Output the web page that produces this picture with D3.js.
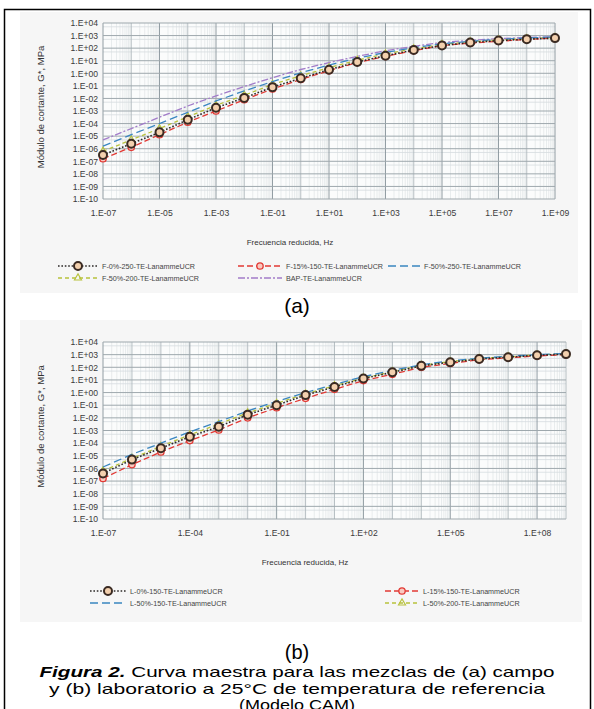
<!DOCTYPE html>
<html>
<head>
<meta charset="utf-8">
<script src="https://cdn.jsdelivr.net/npm/d3@7/dist/d3.min.js"></script>
<style>
body{margin:0;background:#fff;}
text{font-family:"Liberation Sans",Arial,sans-serif;}
</style>
</head>
<body>
<svg id="fig" width="594" height="709"></svg>
<script>

// reduced frequency, Hz (one point per decade)
var freqs=[1e-7,1e-6,1e-5,1e-4,1e-3,1e-2,1e-1,1e0,1e1,1e2,1e3,1e4,1e5,1e6,1e7,1e8,1e9];

// G*, MPa - (a) campo
var f0_250 =[3.2e-7,2.5e-6,2.0e-5,2.0e-4,1.8e-3,1.1e-2,7.9e-2,0.40,1.9,7.9,25,71,160,280,400,520,630];
var f15_150=[1.6e-7,1.3e-6,1.3e-5,1.3e-4,1.0e-3,7.9e-3,5.6e-2,0.32,1.6,7.1,22,63,160,250,350,500,630];
var f50_250=[1.6e-6,1.3e-5,1.0e-4,7.9e-4,6.3e-3,4.0e-2,0.22,1.1,4.5,16,45,110,220,350,500,630,790];
var f50_200=[6.3e-7,5.0e-6,4.0e-5,3.5e-4,2.8e-3,1.8e-2,0.13,0.63,2.8,11,35,89,200,320,450,560,710];
var bap    =[5.0e-6,4.0e-5,3.2e-4,2.5e-3,1.6e-2,8.9e-2,0.45,2.0,7.1,22,63,140,280,420,560,710,790];

// G*, MPa - (b) laboratorio
var l0_150 =[4.0e-7,5.0e-6,4.0e-5,3.2e-4,2.0e-3,1.8e-2,0.10,0.63,2.8,13,40,130,250,450,630,890,1100];
var l15_150=[1.6e-7,2.0e-6,2.0e-5,1.6e-4,1.1e-3,1.0e-2,6.3e-2,0.35,1.8,8.9,28,100,200,400,560,790,1000];
var l50_150=[1.3e-6,1.3e-5,1.0e-4,7.9e-4,5.0e-3,3.5e-2,0.20,1.0,4.5,18,56,160,320,520,740,1000,1260];
var l50_200=[6.3e-7,6.3e-6,5.6e-5,4.5e-4,3.2e-3,2.5e-2,0.14,0.79,3.5,14,45,140,280,500,680,930,1170];

// tick labels
var yTicks=[1e4,1e3,1e2,1e1,1e0,1e-1,1e-2,1e-3,1e-4,1e-5,1e-6,1e-7,1e-8,1e-9,1e-10];
var xTicksA=[1e-7,1e-5,1e-3,1e-1,1e1,1e3,1e5,1e7,1e9];
var xTicksB=[1e-7,1e-4,1e-1,1e2,1e5,1e8];

var svg=d3.select('#fig');

function sci(v){
	var e=Math.round(Math.log10(v));
	var s=e<0?'-':'+';
	var a=Math.abs(e);
	return '1.E'+s+(a<10?'0':'')+a;
}

//styles of the series, same order in both charts
var styles={
	black :{stroke:'#2e2a28',dash:'1.6,1.8',w:1.6,marker:'bigcircle'},
	red   :{stroke:'#e23a35',dash:'6,3',w:1.3,marker:'circle'},
	blue  :{stroke:'#3a86c0',dash:'8,4',w:1.3,marker:'x'},
	yellow:{stroke:'#b8c23c',dash:'4,3',w:1.3,marker:'triangle'},
	purple:{stroke:'#a27cc9',dash:'7,2,2,2',w:1.3,marker:'x'}
};

function drawMarker(g,type,x,y,st){
	if(type=='bigcircle'){
		g.append('circle').attr('cx',x).attr('cy',y).attr('r',4)
			.attr('fill','#f3d0ae').attr('stroke','#3a2a22').attr('stroke-width',2);
	}else if(type=='circle'){
		g.append('circle').attr('cx',x).attr('cy',y).attr('r',3.2)
			.attr('fill','#f9c9c0').attr('stroke',st.stroke).attr('stroke-width',1.3);
	}else if(type=='triangle'){
		g.append('path').attr('d',d3.symbol(d3.symbolTriangle,22)())
			.attr('transform','translate('+x+','+y+')')
			.attr('fill','none').attr('stroke',st.stroke).attr('stroke-width',1.1);
	}else{
		g.append('path').attr('d',d3.symbol(d3.symbolTimes,24)())
			.attr('transform','translate('+x+','+y+')')
			.attr('fill',st.stroke).attr('stroke','none');
	}
}

function chart(cfg){
	var x=d3.scaleLog().domain([1e-7,1e9]).range([cfg.left,cfg.right]);
	var y=d3.scaleLog().domain([1e-10,1e4]).range([cfg.bottom,cfg.top]);

	// panel
	svg.append('rect').attr('x',cfg.panel[0]).attr('y',cfg.panel[1])
		.attr('width',cfg.panel[2]).attr('height',cfg.panel[3])
		.attr('fill','#f6f6f6');
	svg.append('rect').attr('x',cfg.left).attr('y',cfg.top)
		.attr('width',cfg.right-cfg.left).attr('height',cfg.bottom-cfg.top)
		.attr('fill','#fbfcfc');

	var g=svg.append('g');
	// minor grid
	var minX=[],minY=[];
	for(var e=-7;e<9;e++){ for(var k=2;k<10;k++){ minX.push(k*Math.pow(10,e)); } }
	for(var e2=-10;e2<4;e2++){ minY.push(5*Math.pow(10,e2)); }
	g.selectAll('.mx').data(minX).enter().append('line')
		.attr('x1',function(d){return x(d);}).attr('x2',function(d){return x(d);})
		.attr('y1',cfg.top).attr('y2',cfg.bottom)
		.attr('stroke','#dce1e3').attr('stroke-width',0.6);
	g.selectAll('.my').data(minY).enter().append('line')
		.attr('y1',function(d){return y(d);}).attr('y2',function(d){return y(d);})
		.attr('x1',cfg.left).attr('x2',cfg.right)
		.attr('stroke','#d6dcdf').attr('stroke-width',0.8);
	// major grid
	g.selectAll('.MX').data(freqs).enter().append('line')
		.attr('x1',function(d){return x(d);}).attr('x2',function(d){return x(d);})
		.attr('y1',cfg.top).attr('y2',cfg.bottom)
		.attr('stroke',function(d){return cfg.xTicks.indexOf(d)>=0?'#87939a':'#b0b9bd';})
		.attr('stroke-width',0.9);
	g.selectAll('.MY').data(yTicks).enter().append('line')
		.attr('y1',function(d){return y(d);}).attr('y2',function(d){return y(d);})
		.attr('x1',cfg.left).attr('x2',cfg.right)
		.attr('stroke','#9ea8ad').attr('stroke-width',1);

	// axes labels via d3 axes
	var ya=d3.axisLeft(y).tickValues(yTicks).tickFormat(sci).tickSize(0).tickPadding(5);
	var ayg=svg.append('g').attr('transform','translate('+cfg.left+',0)').call(ya);
	var xa=d3.axisBottom(x).tickValues(cfg.xTicks).tickFormat(sci).tickSize(0).tickPadding(11);
	var axg=svg.append('g').attr('transform','translate(0,'+cfg.bottom+')').call(xa);
	[ayg,axg].forEach(function(a){
		a.select('.domain').remove();
		a.selectAll('text').attr('font-family','"DejaVu Serif",serif')
			.attr('font-size',8.6).attr('fill','#3a3a3a');
	});

	svg.append('text').attr('x',cfg.xTitle).attr('y',cfg.bottom+46)
		.attr('text-anchor','middle').attr('font-size',8).attr('fill','#333')
		.text('Frecuencia reducida, Hz');
	svg.append('text').attr('transform','translate(44,'+((cfg.top+cfg.bottom)/2-4)+') rotate(-90)')
		.attr('text-anchor','middle').attr('font-size',9.5).attr('fill','#333')
		.text('Módulo de cortante, G*, MPa');

	// series
	var line=d3.line().x(function(d){return x(d[0]);}).y(function(d){return y(d[1]);});
	var order=cfg.series.slice().reverse();
	order.forEach(function(s){
		var st=styles[s.style];
		var pts=freqs.map(function(f,i){return [f,s.values[i]];});
		svg.append('path').datum(pts).attr('d',line).attr('fill','none')
			.attr('stroke',st.stroke).attr('stroke-width',st.w).attr('stroke-dasharray',st.dash);
		var mg=svg.append('g');
		pts.forEach(function(p){ drawMarker(mg,st.marker,x(p[0]),y(p[1]),st); });
	});

	// legend
	cfg.series.forEach(function(s,i){
		var st=styles[s.style];
		var p=cfg.legend[i];
		var lg=svg.append('g');
		lg.append('line').attr('x1',p[0]).attr('x2',p[0]+p[1]).attr('y1',p[2]).attr('y2',p[2])
			.attr('stroke',st.stroke).attr('stroke-width',st.w).attr('stroke-dasharray',st.dash);
		drawMarker(lg,st.marker,p[0]+p[1]/2,p[2],st);
		lg.append('text').attr('x',p[0]+p[1]+4).attr('y',p[2]+2.5)
			.attr('font-size',7.2).attr('fill','#444').text(s.name);
	});
}

chart({
	left:103,right:555,top:23,bottom:199,
	panel:[20,12,558,281],
	xTicks:xTicksA,xTitle:290,
	series:[
		{name:'F-0%-250-TE-LanammeUCR',values:f0_250,style:'black'},
		{name:'F-15%-150-TE-LanammeUCR',values:f15_150,style:'red'},
		{name:'F-50%-250-TE-LanammeUCR',values:f50_250,style:'blue'},
		{name:'F-50%-200-TE-LanammeUCR',values:f50_200,style:'yellow'},
		{name:'BAP-TE-LanammeUCR',values:bap,style:'purple'}
	],
	legend:[[58,40,266],[238,44,266],[388,32,266],[58,40,278],[238,44,278]]
});

chart({
	left:103,right:566,top:342,bottom:519,
	panel:[20,320,562,302],
	xTicks:xTicksB,xTitle:305,
	series:[
		{name:'L-0%-150-TE-LanammeUCR',values:l0_150,style:'black'},
		{name:'L-15%-150-TE-LanammeUCR',values:l15_150,style:'red'},
		{name:'L-50%-150-TE-LanammeUCR',values:l50_150,style:'blue'},
		{name:'L-50%-200-TE-LanammeUCR',values:l50_200,style:'yellow'}
	],
	legend:[[90,36,591],[385,34,591],[90,36,603],[385,34,603]]
});

// sub labels and caption
svg.append('text').attr('x',297).attr('y',313).attr('text-anchor','middle')
	.attr('font-size',21).attr('fill','#000').text('(a)');
svg.append('text').attr('x',297).attr('y',659).attr('text-anchor','middle')
	.attr('font-size',20).attr('fill','#000').text('(b)');

var capLines=[' Curva maestra para las mezclas de (a) campo',
	'y (b) laboratorio a 25°C de temperatura de referencia',
	'(Modelo CAM)'];
var l1=svg.append('text').attr('x',297).attr('y',677).attr('text-anchor','middle')
	.attr('font-size',15).attr('fill','#000')
	.attr('textLength',515).attr('lengthAdjust','spacingAndGlyphs');
l1.append('tspan').attr('font-weight','bold').attr('font-style','italic').text('Figura 2.');
l1.append('tspan').text(capLines[0]);
svg.append('text').attr('x',297).attr('y',694).attr('text-anchor','middle')
	.attr('font-size',15).attr('fill','#000')
	.attr('textLength',496).attr('lengthAdjust','spacingAndGlyphs').text(capLines[1]);
svg.append('text').attr('x',297).attr('y',710).attr('text-anchor','middle')
	.attr('font-size',15).attr('fill','#000')
	.attr('textLength',116).attr('lengthAdjust','spacingAndGlyphs').text(capLines[2]);

// frame
svg.append('rect').attr('x',4.5).attr('y',9.5).attr('width',586).attr('height',710)
	.attr('fill','none').attr('stroke','#000').attr('stroke-width',1.5);

</script>
</body>
</html>
